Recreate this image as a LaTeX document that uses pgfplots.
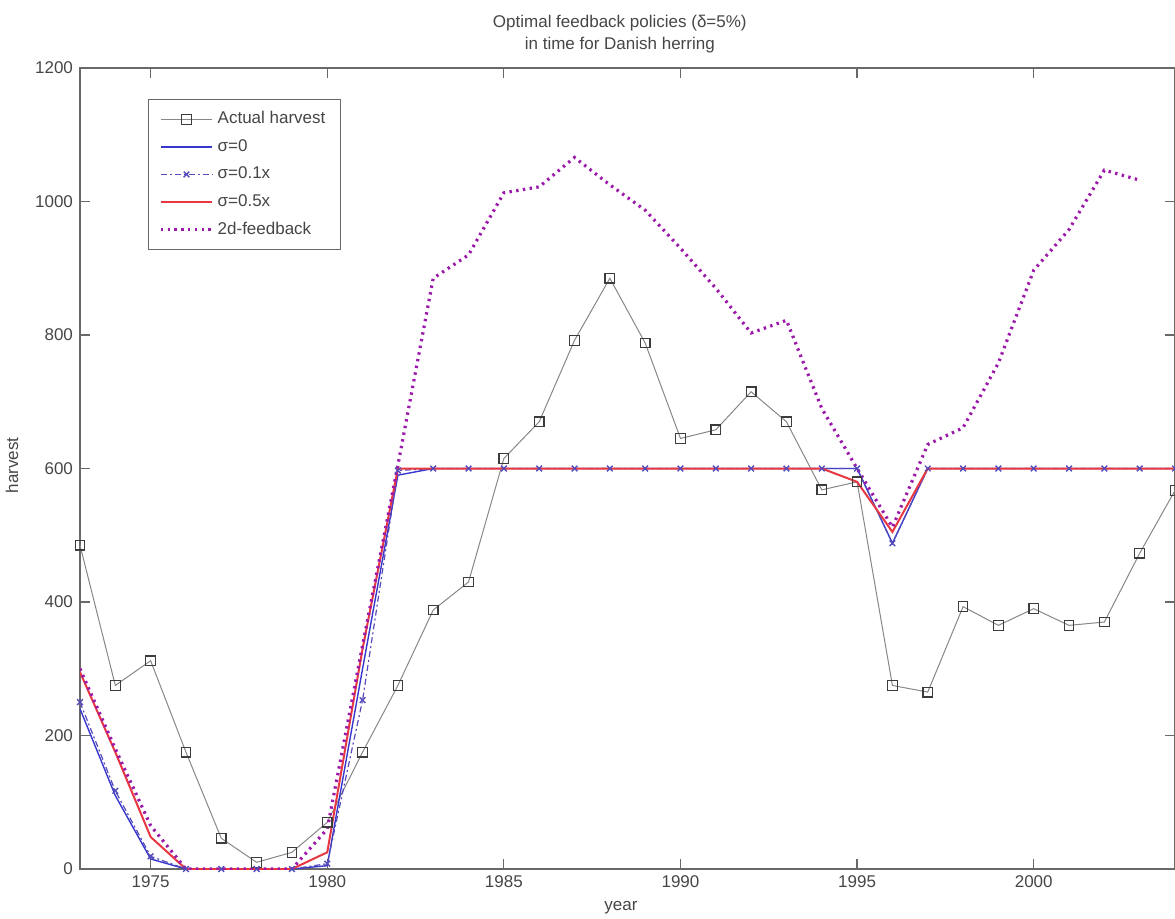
\documentclass[border=0pt]{standalone}
\usepackage{fontspec}
\setmainfont{Liberation Sans}
\usepackage{pgfplots}
\pgfplotsset{compat=1.18}
\definecolor{txt}{RGB}{70,70,70}
\definecolor{axc}{RGB}{105,105,105}
\definecolor{harvl}{RGB}{135,135,135}
\definecolor{harvm}{RGB}{60,60,60}
\definecolor{sigz}{RGB}{55,55,205}
\definecolor{sigo}{RGB}{85,75,185}
\definecolor{sigf}{RGB}{232,55,65}
\definecolor{twod}{RGB}{155,25,170}
\begin{document}
\begin{tikzpicture}[x=1pt,y=1pt]
\begin{axis}[
  at={(0pt,0pt)}, anchor=south west,
  scale only axis, width=547.5pt, height=400.5pt,
  xmin=1973, xmax=2004, ymin=0, ymax=1200,
  xtick={1975,1980,1985,1990,1995,2000},
  ytick={0,200,400,600,800,1000,1200},
  /pgf/number format/1000 sep={},
  /pgf/number format/assume math mode=true,
  axis line style={draw=axc, line width=0.6pt},
  tick style={draw=axc, line width=0.6pt},
  tick align=inside, major tick length=5pt,
  xtick pos=both, ytick pos=both,
  ticklabel style={font=\fontsize{8.5}{10}\selectfont, text=txt},
  xlabel={year}, ylabel={harvest},
  xlabel style={at={(axis description cs:0.494,-0.0487)}, anchor=center, font=\fontsize{8.5}{10}\selectfont, text=txt},
  ylabel style={at={(axis description cs:-0.062,0.504)}, anchor=center, font=\fontsize{8.5}{10}\selectfont, text=txt},
  title={Optimal feedback policies (δ=5\%)\\in time for Danish herring},
  title style={at={(axis description cs:0.493,1)}, anchor=south, inner sep=0pt, yshift=1.5pt, align=center, font=\fontsize{8.5}{11}\selectfont, text=txt},
  legend cell align=left,
  legend style={at={(axis description cs:0.062,0.961)}, anchor=north west, draw=axc, fill=white, font=\fontsize{8.5}{10}\selectfont, text=txt, row sep=2.3pt, inner xsep=5.5pt, inner ysep=4pt},
  legend image code/.code={\draw[mark repeat=2,mark phase=2,#1] plot coordinates {(0cm,0cm) (0.45cm,0cm) (0.9cm,0cm)};},
]
\addplot[color=harvl, line width=0.5pt, mark=square, mark size=2.4pt, mark options={draw=harvm, solid, line width=0.6pt}] coordinates {
(1973,485) (1974,275) (1975,312) (1976,175) (1977,46) (1978,10) (1979,25) (1980,70)
(1981,175) (1982,275) (1983,388) (1984,430) (1985,615) (1986,670) (1987,792) (1988,885)
(1989,788) (1990,645) (1991,658) (1992,715) (1993,670) (1994,568) (1995,580) (1996,275)
(1997,265) (1998,393) (1999,365) (2000,390) (2001,365) (2002,370) (2003,473) (2004,567)};
\addlegendentry{Actual harvest}
\addplot[color=sigz, line width=0.7pt] coordinates {
(1973,240) (1974,110) (1975,15) (1976,0) (1977,0) (1978,0) (1979,0) (1980,5)
(1981,300) (1982,590) (1983,600) (1984,600) (1985,600) (1986,600) (1987,600) (1988,600)
(1989,600) (1990,600) (1991,600) (1992,600) (1993,600) (1994,600) (1995,600) (1996,488)
(1997,600) (1998,600) (1999,600) (2000,600) (2001,600) (2002,600) (2003,600) (2004,600)};
\addlegendentry{σ=0}
\addplot[color=sigo, line width=0.6pt, dash pattern=on 3pt off 1.5pt on 1pt off 1.5pt, mark=x, mark size=2pt, mark options={solid, line width=0.7pt}] coordinates {
(1973,250) (1974,117) (1975,19) (1976,0) (1977,0) (1978,0) (1979,0) (1980,8)
(1981,253) (1982,597) (1983,600) (1984,600) (1985,600) (1986,600) (1987,600) (1988,600)
(1989,600) (1990,600) (1991,600) (1992,600) (1993,600) (1994,600) (1995,600) (1996,488)
(1997,600) (1998,600) (1999,600) (2000,600) (2001,600) (2002,600) (2003,600) (2004,600)};
\addlegendentry{σ=0.1x}
\addplot[color=sigf, line width=1pt] coordinates {
(1973,295) (1974,175) (1975,48) (1976,0) (1977,0) (1978,0) (1979,0) (1980,25)
(1981,330) (1982,600) (1983,600) (1984,600) (1985,600) (1986,600) (1987,600) (1988,600)
(1989,600) (1990,600) (1991,600) (1992,600) (1993,600) (1994,600) (1995,580) (1996,505)
(1997,600) (1998,600) (1999,600) (2000,600) (2001,600) (2002,600) (2003,600) (2004,600)};
\addlegendentry{σ=0.5x}
\addplot[color=twod, line width=1.6pt, dash pattern=on 1.2pt off 2.2pt] coordinates {
(1973,300) (1974,180) (1975,65) (1976,0) (1977,0) (1978,0) (1979,0) (1980,60)
(1981,335) (1982,605) (1983,885) (1984,920) (1985,1013) (1986,1022) (1987,1066) (1988,1025)
(1989,987) (1990,930) (1991,870) (1992,803) (1993,822) (1994,690) (1995,600) (1996,512)
(1997,636) (1998,661) (1999,758) (2000,897) (2001,958) (2002,1047) (2003,1032)};
\addlegendentry{2d-feedback}
\end{axis}
\pgfresetboundingbox
\path[use as bounding box] (-40pt,-24.5pt) rectangle (547.5pt,434.5pt);
\end{tikzpicture}
\end{document}
